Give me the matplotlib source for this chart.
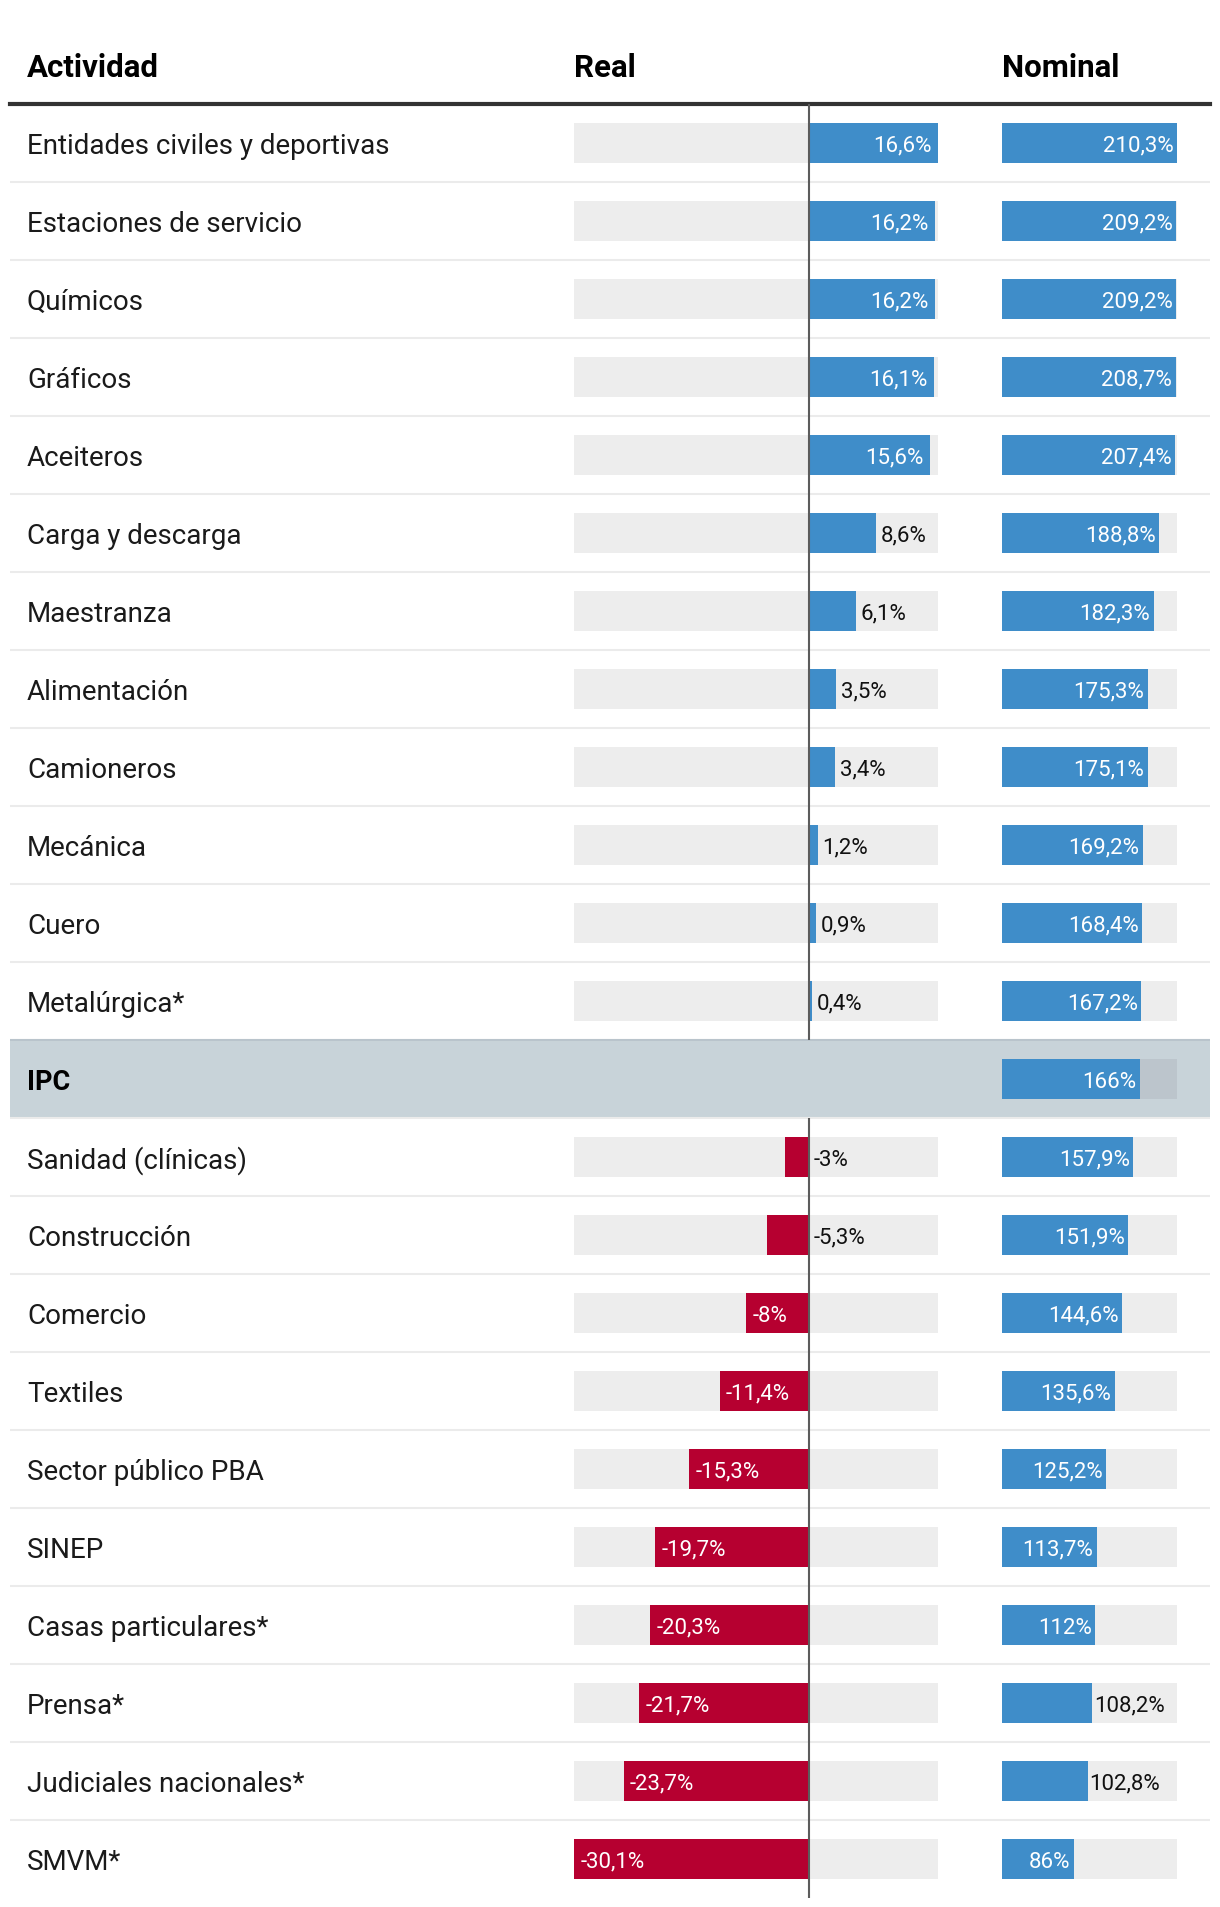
import numpy as np
import matplotlib.pyplot as plt

actividades = ["Entidades civiles y deportivas", "Estaciones de servicio", "Químicos",
               "Gráficos", "Aceiteros", "Carga y descarga", "Maestranza", "Alimentación",
               "Camioneros", "Mecánica", "Cuero", "Metalúrgica*", "IPC",
               "Sanidad (clínicas)", "Construcción", "Comercio", "Textiles",
               "Sector público PBA", "SINEP", "Casas particulares*", "Prensa*",
               "Judiciales nacionales*", "SMVM*"]
real = [16.6, 16.2, 16.2, 16.1, 15.6, 8.6, 6.1, 3.5, 3.4, 1.2, 0.9, 0.4, np.nan,
        -3, -5.3, -8, -11.4, -15.3, -19.7, -20.3, -21.7, -23.7, -30.1]
nominal = [210.3, 209.2, 209.2, 208.7, 207.4, 188.8, 182.3, 175.3, 175.1, 169.2, 168.4,
           167.2, 166, 157.9, 151.9, 144.6, 135.6, 125.2, 113.7, 112, 108.2, 102.8, 86]
ipc_row = actividades.index("IPC")

BLUE = "#3f8dc9"
RED = "#b60030"
BG = "#ededed"
BAND = "#c8d3d9"
FONT = "Roboto"
VSIZE = 16

W, H = 1220, 1908
fig = plt.figure(figsize=(W / 100, H / 100), dpi=100)

n = len(actividades)
top_px, bottom_px = 105, 1899


def axes_at(x0, x1):
    return fig.add_axes([x0 / W, 1 - bottom_px / H, (x1 - x0) / W, (bottom_px - top_px) / H])


rows = np.arange(n)
fmt = lambda v: f"{v:g}".replace(".", ",") + "%"
dy = 0.03  # small nudge down for text

# base table
base = axes_at(10, 1210)
base.set_xlim(0, 1)
base.set_ylim(n - 0.5, -0.5)
base.axis("off")
for i in range(n - 1):
    base.axhline(i + 0.5, color="#ebebeb", lw=1.5, zorder=1)
base.axhspan(ipc_row - 0.5, ipc_row + 0.5, color=BAND, zorder=0, lw=0)
base.axhline(ipc_row - 0.5, color="#b9c4cc", lw=1.5, zorder=1)
base.axhline(-0.5, color="#333333", lw=3, clip_on=False)
lx = 17 / 1200
for i, name in enumerate(actividades):
    if i == ipc_row:
        base.text(lx, i + dy, name, fontsize=19.5, fontweight="bold", va="center", family=FONT)
    else:
        base.text(lx, i + dy, name, fontsize=20, va="center", family=FONT, color="#1a1a1a")
base.text(lx, -0.98, "Actividad", fontsize=22.5, fontweight="bold", va="center",
          family=FONT, clip_on=False)

# Real column
ax_r = axes_at(574, 938)
ax_r.set_xlim(-30.1, 16.6)
ax_r.set_ylim(n - 0.5, -0.5)
ax_r.axis("off")
lo, hi = ax_r.get_xlim()
mask = ~np.isnan(real)
ax_r.barh(rows[mask], hi - lo, left=lo, height=0.51, color=BG, zorder=1)
rv = np.array(real)
ax_r.barh(rows[mask], rv[mask], height=0.51,
          color=[BLUE if v > 0 else RED for v in rv[mask]], zorder=2)
ax_r.vlines(0, -0.5, ipc_row - 0.5, color="#5c5c5c", lw=1.5, zorder=3)
ax_r.vlines(0, ipc_row + 0.5, n - 0.5, color="#5c5c5c", lw=1.5, zorder=3, clip_on=False)
ax_r.text(lo, -0.98, "Real", fontsize=22.5, fontweight="bold", va="center",
          family=FONT, clip_on=False)
pad = 0.8
for i, v in enumerate(real):
    if np.isnan(v):
        continue
    if v > 10:
        ax_r.text(v - pad, i + dy, fmt(v), ha="right", va="center", color="white",
                  fontsize=VSIZE, family=FONT, zorder=4)
    elif v <= -8:
        ax_r.text(v + pad, i + dy, fmt(v), ha="left", va="center", color="white",
                  fontsize=VSIZE, family=FONT, zorder=4)
    else:
        ax_r.text(max(v, 0) + 0.6, i + dy, fmt(v), ha="left", va="center", color="#111111",
                  fontsize=VSIZE, family=FONT, zorder=4)

# Nominal column
ax_n = axes_at(1002, 1177)
ax_n.set_xlim(0, 210.3)
ax_n.set_ylim(n - 0.5, -0.5)
ax_n.axis("off")
nmax = ax_n.get_xlim()[1]
ax_n.barh(rows, nmax, height=0.51,
          color=["#bcc5cc" if i == ipc_row else BG for i in rows], zorder=1)
ax_n.barh(rows, nominal, height=0.51, color=BLUE, zorder=2)
ax_n.text(0, -0.98, "Nominal", fontsize=22.5, fontweight="bold", va="center",
          family=FONT, clip_on=False)
for i, v in enumerate(nominal):
    if 100 <= v < 110:
        ax_n.text(v + 2, i + dy, fmt(v), ha="left", va="center", color="#111111",
                  fontsize=VSIZE, family=FONT, zorder=4)
    else:
        ax_n.text(v - 4, i + dy, fmt(v), ha="right", va="center", color="white",
                  fontsize=VSIZE, family=FONT, zorder=4)

fig.savefig("out.png", dpi=100)
